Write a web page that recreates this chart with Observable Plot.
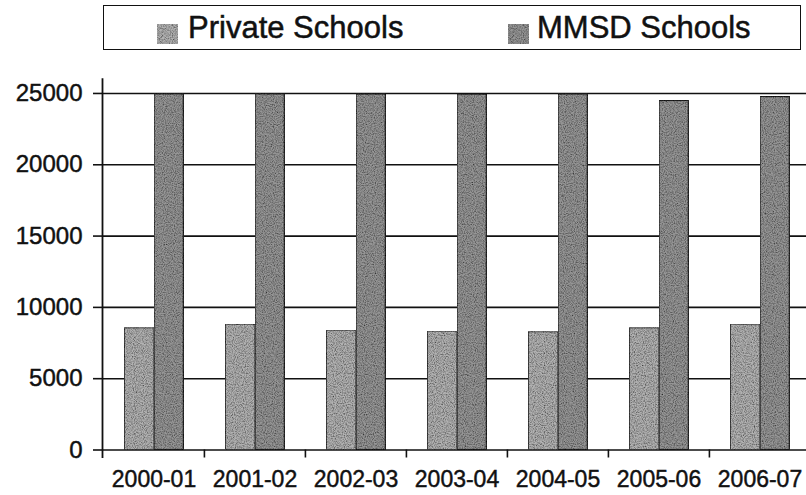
<!DOCTYPE html>
<html>
<head>
<meta charset="utf-8">
<script src="https://cdn.jsdelivr.net/npm/d3@7"></script>
<script src="https://cdn.jsdelivr.net/npm/@observablehq/plot@0.6"></script>
<style>
  html, body { margin: 0; padding: 0; background: white; }
  #wrap { position: relative; width: 806px; height: 495px; overflow: hidden; font-family: "Liberation Sans", Arial, sans-serif; }
  #legend { position: absolute; left: 103px; top: 5px; width: 696px; height: 43px; border: 1.5px solid #111; background: white; }
  .item { position: absolute; top: 0; height: 43px; font-size: 31px; line-height: 43px; color: #111; white-space: nowrap; -webkit-text-stroke: 0.5px #111; }
  .sw { position: absolute; width: 21px; height: 20px; top: 18px; filter: url(#grain); }
  #chart svg text { stroke: #111; stroke-width: 0.45px; }
</style>
</head>
<body>
<svg width="0" height="0" style="position:absolute">
  <defs>
    <filter id="grain" x="0" y="0" width="100%" height="100%">
      <feTurbulence type="fractalNoise" baseFrequency="0.9" numOctaves="2" seed="3" result="noise"/>
      <feColorMatrix in="noise" type="matrix" values="0 0 0 0 0  0 0 0 0 0  0 0 0 0 0  0 0 0 1.6 -0.55" result="dots"/>
      <feComposite in="dots" in2="SourceGraphic" operator="in" result="clipped"/>
      <feMerge><feMergeNode in="SourceGraphic"/><feMergeNode in="clipped"/></feMerge>
    </filter>
  </defs>
</svg>
<div id="wrap">
  <div id="chart"></div>
  <div id="legend"></div>
</div>
<script>
const years = ["2000-01", "2001-02", "2002-03", "2003-04", "2004-05", "2005-06", "2006-07"];
const privateSchools = [8530, 8790, 8370, 8300, 8250, 8530, 8790];
const mmsdSchools = [24940, 24940, 24930, 24920, 24930, 24470, 24750];
const seriesNames = ["Private Schools", "MMSD Schools"];
const seriesColors = ["#b2b2b2", "#969696"];
const yTicks = [0, 5000, 10000, 15000, 20000, 25000];

const rows = years.flatMap((y, i) => [
  {year: y, series: seriesNames[0], value: privateSchools[i]},
  {year: y, series: seriesNames[1], value: mmsdSchools[i]}
]);

const step = (810.2 - 102) / years.length;

const chart = Plot.plot({
  width: 806,
  height: 495,
  marginLeft: 102,
  marginRight: 0,
  marginTop: 78.7,
  marginBottom: 45.5,
  style: {fontFamily: "'Liberation Sans', Arial, sans-serif", background: "white", color: "#111", overflow: "visible"},
  x: {domain: years, range: [102, 810.2], padding: 0, axis: null, label: null},
  y: {domain: [0, 26000], axis: null, label: null},
  marks: [
    Plot.ruleY(yTicks, {stroke: "#111", strokeWidth: 1.6}),
    Plot.barY(rows.filter(d => d.series === seriesNames[0]), {
      x: "year", y: "value", fill: seriesColors[0], stroke: "#444", strokeWidth: 1,
      insetLeft: 21.5, insetRight: step - 51, className: "grainy"
    }),
    Plot.barY(rows.filter(d => d.series === seriesNames[1]), {
      x: "year", y: "value", fill: seriesColors[1], stroke: "#222", strokeWidth: 1.2,
      insetLeft: 51, insetRight: step - 80.5, className: "grainy"
    }),
    Plot.frame({anchor: "left", stroke: "#111", strokeWidth: 1.8, insetBottom: -7}),
    Plot.ruleX(years.slice(1), {x: d => d, dx: -step / 2, y1: 0, y2: 0, insetBottom: -8, stroke: "#111", strokeWidth: 1.6}),
    Plot.axisY({ticks: yTicks, label: null, tickSize: 9, tickPadding: 11, fontSize: 24, tickFormat: d3.format("d"), stroke: "#111", strokeWidth: 1.6, fill: "#111"}),
    Plot.axisX({label: null, tickSize: 0, tickPadding: 21, fontSize: 23, fill: "#111"})
  ]
});
chart.querySelectorAll("g.grainy rect").forEach(r => r.setAttribute("filter", "url(#grain)"));
document.getElementById("chart").appendChild(chart);

const legend = document.getElementById("legend");
const legendPos = [{sw: 53, tx: 84}, {sw: 404, tx: 433}];
seriesNames.forEach((name, i) => {
  const sw = document.createElement("div");
  sw.className = "sw";
  sw.style.left = legendPos[i].sw + "px";
  sw.style.background = seriesColors[i];
  legend.appendChild(sw);
  const t = document.createElement("div");
  t.className = "item";
  t.style.left = legendPos[i].tx + "px";
  t.textContent = name;
  legend.appendChild(t);
});
</script>
</body>
</html>
